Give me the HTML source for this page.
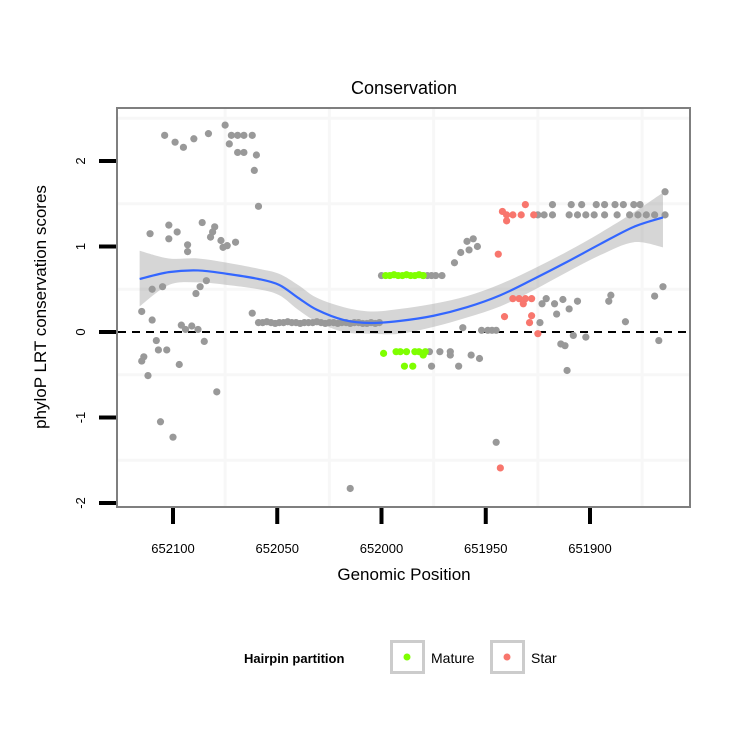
<!DOCTYPE html>
<html><head><meta charset="utf-8"><style>
html,body{margin:0;padding:0;background:#fff;}
svg{display:block;font-family:"Liberation Sans",Arial,sans-serif;}
</style></head><body>
<svg id="chart" width="750" height="750" viewBox="0 0 750 750">
<rect x="0" y="0" width="750" height="750" fill="#fff"/>
<text x="404" y="94" font-size="18" text-anchor="middle">Conservation</text>
<g id="grid"></g>
<g id="band"></g>
<line x1="118" x2="689" y1="332" y2="332" stroke="#000" stroke-width="2" stroke-dasharray="8,6"/>
<g id="points"></g>
<g id="smooth"></g>
<rect x="117" y="108" width="573" height="399" fill="none" stroke="#7f7f7f" stroke-width="2"/>
<g id="axes"></g>
<text x="404" y="580" font-size="17" text-anchor="middle">Genomic Position</text>
<text transform="translate(46,307) rotate(-90)" font-size="17" text-anchor="middle">phyloP LRT conservation scores</text>
<g>
<text x="244" y="663" font-size="13" font-weight="bold">Hairpin partition</text>
<g>
<rect x="391.5" y="641.5" width="32" height="31" fill="#fff" stroke="#cccccc" stroke-width="3"/>
<circle cx="407" cy="657" r="3.5" fill="#7fff00"/>
<text x="431" y="663" font-size="14">Mature</text>
</g>
<g>
<rect x="491.5" y="641.5" width="32" height="31" fill="#fff" stroke="#cccccc" stroke-width="3"/>
<circle cx="507" cy="657" r="3.5" fill="#f8766d"/>
<text x="531" y="663" font-size="14">Star</text>
</g>
</g>
</svg>
<script>
const xTicks = [652100, 652050, 652000, 651950, 651900];
const xTickLabels = ["652100", "652050", "652000", "651950", "651900"];
const yTicks = [-2, -1, 0, 1, 2];
const yTickLabels = ["-2", "-1", "0", "1", "2"];
const xMinor = [652075, 652025, 651975, 651925, 651875];
const yMinor = [-1.5, -0.5, 0.5, 1.5, 2.5];

const grayPos = [652104,652099,652095,652090,652083,652075,652072,652069,652066,652062,652073,652069,652066,652060,652061,652059,
652111,652102,652098,652102,652086,652080,652081,652082,652077,652076,652074,652070,652093,652093,652084,652087,652089,652110,652105,
652115,652110,652096,652094,652091,652088,652062,652108,652107,652103,652085,652114,652115,652112,652097,652079,652106,652100,652015,
652059,652057,652055,652053,652051,652049,652047,652045,652043,652041,652039,652037,652035,652033,652031,652029,652027,652025,652023,652021,652019,652017,652015,652013,652011,652009,652007,652005,652003,652001,
652000,651980,651978,651976,651974,651971,
651977,651972,651967,651967,651976,651963,651957,651953,651961,651952,651949,651947,651945,
651965,651962,651959,651956,651958,651954,
651925,651922,651918,651918,651909,651904,651897,651893,651888,651884,651879,651876,651910,651906,651902,651898,651893,651887,651881,651877,651873,651869,651864,651864,
651921,651923,651917,651913,651906,651916,651910,651924,651890,651891,651883,651869,651865,651908,651902,651914,651912,651911,651867,651945];
const grayScore = [2.30,2.22,2.16,2.26,2.32,2.42,2.30,2.30,2.30,2.30,2.20,2.10,2.10,2.07,1.89,1.47,
1.15,1.25,1.17,1.09,1.28,1.23,1.17,1.11,1.07,0.99,1.01,1.05,1.02,0.94,0.60,0.53,0.45,0.50,0.53,
0.24,0.14,0.08,0.03,0.07,0.03,0.22,-0.10,-0.21,-0.21,-0.11,-0.29,-0.34,-0.51,-0.38,-0.70,-1.05,-1.23,-1.83,
0.11,0.11,0.12,0.11,0.10,0.11,0.11,0.12,0.11,0.11,0.10,0.11,0.11,0.11,0.12,0.11,0.10,0.11,0.11,0.10,0.11,0.11,0.10,0.11,0.11,0.10,0.10,0.11,0.10,0.11,
0.66,0.66,0.66,0.66,0.66,0.66,
-0.23,-0.23,-0.23,-0.27,-0.40,-0.40,-0.27,-0.31,0.05,0.02,0.02,0.02,0.02,
0.81,0.93,1.06,1.09,0.96,1.00,
1.37,1.37,1.37,1.49,1.49,1.49,1.49,1.49,1.49,1.49,1.49,1.49,1.37,1.37,1.37,1.37,1.37,1.37,1.37,1.37,1.37,1.37,1.37,1.64,
0.39,0.33,0.33,0.38,0.36,0.21,0.27,0.11,0.43,0.36,0.12,0.42,0.53,-0.04,-0.06,-0.14,-0.16,-0.45,-0.10,-1.29];

const maturePos = [651998,651996,651994,651992,651990,651988,651986,651984,651982,651980,651999,651993,651991,651988,651984,651982,651979,651980,651989,651985];
const matureScore = [0.66,0.66,0.67,0.66,0.66,0.67,0.66,0.66,0.67,0.66,-0.25,-0.23,-0.23,-0.23,-0.23,-0.23,-0.23,-0.27,-0.40,-0.40];

const starPos = [651944,651931,651942,651940,651937,651933,651940,651927,651937,651934,651931,651928,651932,651941,651928,651929,651925,651943];
const starScore = [0.91,1.49,1.41,1.37,1.37,1.37,1.30,1.37,0.39,0.39,0.39,0.39,0.33,0.18,0.19,0.11,-0.02,-1.59];

const smoothPos = [652116,652102,652088,652074,652059,652049,652040,652031,652018,652005,651991,651975,651959,651943,651927,651911,651895,651879,651865];
const smoothFit = [0.62,0.70,0.72,0.68,0.62,0.55,0.40,0.26,0.14,0.105,0.13,0.19,0.29,0.43,0.62,0.82,1.03,1.23,1.34];
const smoothLo = [0.30,0.55,0.58,0.55,0.50,0.43,0.26,0.12,0.00,-0.02,-0.02,0.06,0.17,0.30,0.49,0.70,0.90,1.05,0.99];
const smoothHi = [0.95,0.86,0.86,0.81,0.74,0.68,0.55,0.40,0.29,0.24,0.27,0.33,0.42,0.56,0.74,0.94,1.16,1.40,1.63];

const NS = "http://www.w3.org/2000/svg";
function xs(p){ return 381.5 - (p - 652000) * 2.085; }
function ys(v){ return 332 - v * 85.5; }
function mk(tag, attrs, parent){
  const e = document.createElementNS(NS, tag);
  for (const k in attrs) e.setAttribute(k, attrs[k]);
  parent.appendChild(e);
  return e;
}
function curve(pts, start){
  let d = (start ? 'M' : 'L') + pts[0][0] + ',' + pts[0][1];
  for (let i = 0; i < pts.length - 1; i++) {
    const p0 = pts[Math.max(i - 1, 0)], p1 = pts[i], p2 = pts[i + 1], p3 = pts[Math.min(i + 2, pts.length - 1)];
    const c1x = p1[0] + (p2[0] - p0[0]) / 6, c1y = p1[1] + (p2[1] - p0[1]) / 6;
    const c2x = p2[0] - (p3[0] - p1[0]) / 6, c2y = p2[1] - (p3[1] - p1[1]) / 6;
    d += 'C' + c1x + ',' + c1y + ' ' + c2x + ',' + c2y + ' ' + p2[0] + ',' + p2[1];
  }
  return d;
}
const grid = document.getElementById('grid');
xMinor.forEach(p => {
  const l = mk('line', {x1: xs(p), x2: xs(p), y1: 109, y2: 506, stroke: '#f7f7f7', 'stroke-width': 3}, grid);
  
  
});
yMinor.forEach(v => {
  const l = mk('line', {x1: 118, x2: 689, y1: ys(v), y2: ys(v), stroke: '#f7f7f7', 'stroke-width': 3}, grid);
  
  
});

const band = document.getElementById('band');
const hiPts = smoothPos.map((p, i) => [xs(p), ys(smoothHi[i])]);
const loPts = smoothPos.map((p, i) => [xs(p), ys(smoothLo[i])]).reverse();
const bp = mk('path', {d: curve(hiPts, true) + curve(loPts, false) + 'Z', fill: '#999', 'fill-opacity': 0.4}, band);



const pts = document.getElementById('points');
function drawSeries(P, S, color, name){
  P.forEach((p, i) => {
    const c = mk('circle', {cx: xs(p), cy: ys(S[i]), r: 3.6, fill: color}, pts);
    
    
  });
}
drawSeries(grayPos, grayScore, '#999999', 'point-other');
drawSeries(maturePos, matureScore, '#7fff00', 'point-mature');
drawSeries(starPos, starScore, '#f8766d', 'point-star');

const sm = document.getElementById('smooth');
const fitPts = smoothPos.map((p, i) => [xs(p), ys(smoothFit[i])]);
const sl = mk('path', {d: curve(fitPts, true), fill: 'none', stroke: '#3366ff', 'stroke-width': 2.2, 'stroke-linejoin': 'round'}, sm);



const axes = document.getElementById('axes');
xTicks.forEach((p, i) => {
  const t = mk('line', {x1: xs(p), x2: xs(p), y1: 508, y2: 524, stroke: '#000', 'stroke-width': 4}, axes);
  
  
  const tx = mk('text', {x: xs(p), y: 553, 'font-size': 13, 'text-anchor': 'middle'}, axes);
  tx.textContent = xTickLabels[i];
  
  
});
yTicks.forEach((v, i) => {
  const t = mk('line', {x1: 99, x2: 116, y1: ys(v), y2: ys(v), stroke: '#000', 'stroke-width': 4}, axes);
  
  
  const tx = mk('text', {'font-size': 13, 'text-anchor': 'middle', transform: 'translate(85,' + ys(v) + ') rotate(-90)'}, axes);
  tx.textContent = yTickLabels[i];
  
  
});
</script>
</body></html>
